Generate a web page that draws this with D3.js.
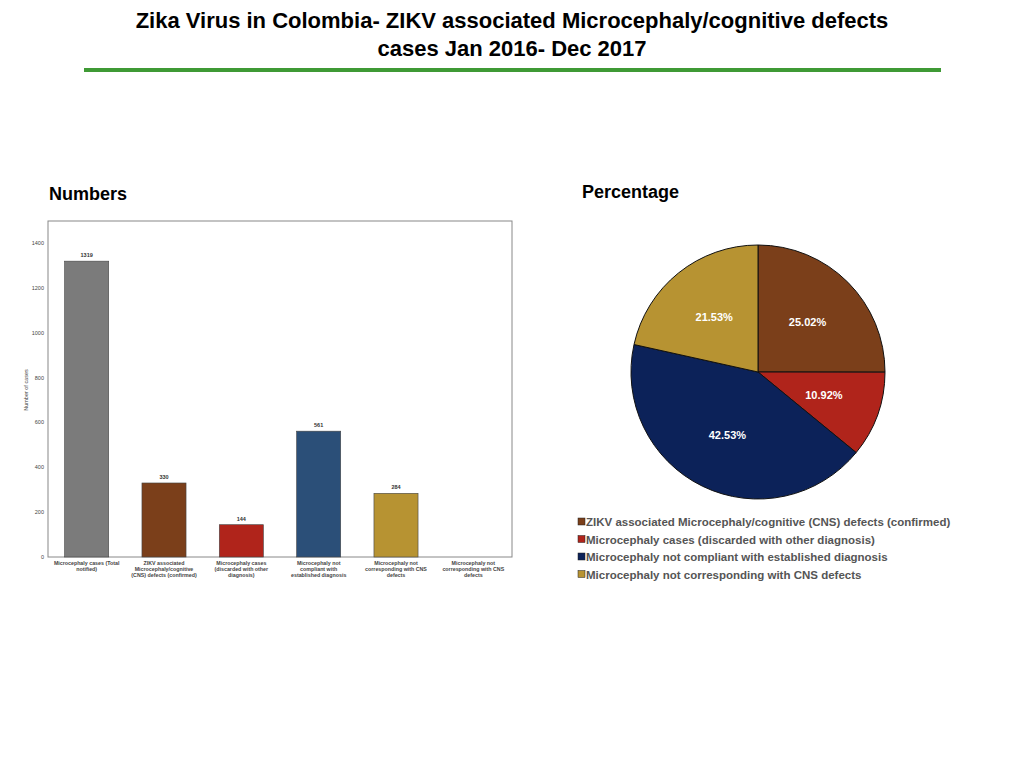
<!DOCTYPE html>
<html><head><meta charset="utf-8">
<script src="https://cdn.jsdelivr.net/npm/d3@7"></script>
<style>body{margin:0;background:#fff}svg{display:block;font-family:"Liberation Sans",Arial,sans-serif}</style>
</head><body><svg id="c" width="1024" height="768"></svg>
<script>
const categories=[["Microcephaly cases (Total","notified)"],["ZIKV associated","Microcephaly/cognitive","(CNS) defects (confirmed)"],["Microcephaly cases","(discarded with other","diagnosis)"],["Microcephaly not","compliant with","established diagnosis"],["Microcephaly not","corresponding with CNS","defects"],["Microcephaly not","corresponding with CNS","defects"]];
const barValues=[1319,330,144,561,284,null];
const barColors=["#7b7b7b","#7b3f1a","#b0241b","#2b4f78","#b79332",null];
const yTicks=[0,200,400,600,800,1000,1200,1400];
const pieLabels=["ZIKV associated Microcephaly/cognitive (CNS) defects (confirmed)","Microcephaly cases (discarded with other diagnosis)","Microcephaly not compliant with established diagnosis","Microcephaly not corresponding with CNS defects"];
const pieValues=[25.02,10.92,42.53,21.53];
const pieColors=["#7b3f1a","#b0241b","#0c2259","#b79332"];

const svg=d3.select("#c");
svg.append("text").attr("x",512).attr("y",28).attr("text-anchor","middle").attr("font-size",22).attr("font-weight","bold").text("Zika Virus in Colombia- ZIKV associated Microcephaly/cognitive defects");
svg.append("text").attr("x",512).attr("y",56).attr("text-anchor","middle").attr("font-size",22).attr("font-weight","bold").text("cases Jan 2016- Dec 2017");
svg.append("rect").attr("x",84).attr("y",68).attr("width",857).attr("height",4).attr("fill","#3f9a35");
svg.append("text").attr("x",49).attr("y",200).attr("font-size",18).attr("font-weight","bold").text("Numbers");
svg.append("text").attr("x",582).attr("y",198).attr("font-size",18).attr("font-weight","bold").text("Percentage");

// bar chart
const x=d3.scaleBand().domain(d3.range(categories.length)).range([48,512]).paddingInner(0.43).paddingOuter(0.215);
const y=d3.scaleLinear().domain([0,1400]).range([557,243]);
svg.append("rect").attr("x",48).attr("y",221).attr("width",464).attr("height",336).attr("fill","none").attr("stroke","#888").attr("stroke-width",1);
svg.append("g").selectAll("text").data(yTicks).join("text").attr("x",44).attr("y",d=>y(d)+2).attr("text-anchor","end").attr("font-size",5.5).attr("fill","#444").text(d=>d);
svg.append("text").attr("transform","translate(28,390) rotate(-90)").attr("text-anchor","middle").attr("font-size",5.5).attr("fill","#444").text("Number of cases");
const bars=barValues.map((v,i)=>({v,i})).filter(d=>d.v!=null);
svg.append("g").selectAll("rect").data(bars).join("rect").attr("x",d=>x(d.i)).attr("width",x.bandwidth()).attr("y",d=>y(d.v)).attr("height",d=>557-y(d.v)).attr("fill",d=>barColors[d.i]).attr("stroke","#444").attr("stroke-width",0.6);
svg.append("g").selectAll("text").data(bars).join("text").attr("x",d=>x(d.i)+x.bandwidth()/2).attr("y",d=>y(d.v)-4).attr("text-anchor","middle").attr("font-size",5.5).attr("font-weight","bold").attr("fill","#333").text(d=>d.v);
categories.forEach((c,i)=>{
  const t=svg.append("text").attr("x",x(i)+x.bandwidth()/2).attr("y",565).attr("text-anchor","middle").attr("font-size",5.3).attr("font-weight","bold").attr("fill","#444");
  c.forEach((l,j)=>t.append("tspan").attr("x",x(i)+x.bandwidth()/2).attr("dy",j?6:0).text(l));
});

// pie
const pie=d3.pie().sort(null)(pieValues);
const arc=d3.arc().innerRadius(0).outerRadius(127);
const g=svg.append("g").attr("transform","translate(758,372)");
g.selectAll("path").data(pie).join("path").attr("d",arc).attr("fill",(d,i)=>pieColors[i]).attr("stroke","#111").attr("stroke-width",1);
const la=d3.arc().innerRadius(70).outerRadius(70);
g.selectAll("text").data(pie).join("text").attr("transform",d=>`translate(${la.centroid(d)})`).attr("text-anchor","middle").attr("dy","0.35em").attr("font-size",11).attr("font-weight","bold").attr("fill","#fff").text(d=>d.data.toFixed(2)+"%");

const lg=svg.append("g").selectAll("g").data(pieLabels).join("g").attr("transform",(d,i)=>`translate(578,${522+i*17.5})`);
lg.append("rect").attr("x",0).attr("y",-4).attr("width",7).attr("height",7).attr("fill",(d,i)=>pieColors[i]).attr("stroke","#222").attr("stroke-width",0.5);
lg.append("text").attr("x",8).attr("y",4).attr("font-size",11.5).attr("font-weight","bold").attr("fill","#555").text(d=>d);
</script></body></html>
